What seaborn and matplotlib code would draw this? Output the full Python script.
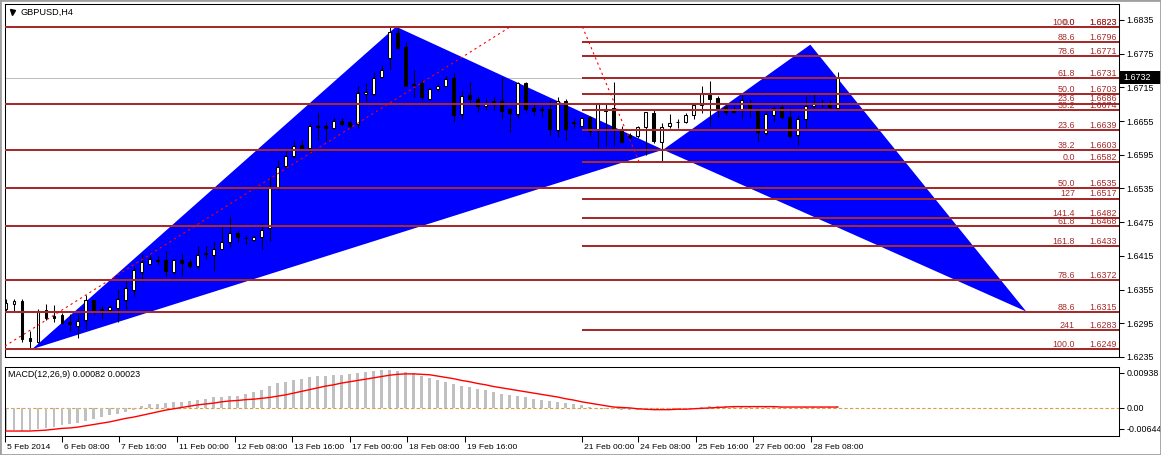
import numpy as np
import pandas as pd
import matplotlib
matplotlib.use("Agg")
import matplotlib.pyplot as plt
import matplotlib.transforms as mtransforms
from matplotlib.patches import Polygon, Rectangle
import seaborn as sns

# ---------------- data ----------------
symbol_title = "GBPUSD,H4"
macd_title = "MACD(12,26,9) 0.00082 0.00023"

opens = [1.6321, 1.6330, 1.6334, 1.6269, 1.6262, 1.6318, 1.6308, 1.6310, 1.6297, 1.6291,
         1.6300, 1.6336, 1.6320, 1.6319, 1.6323, 1.6337, 1.6354, 1.6386, 1.6401, 1.6406,
         1.6407, 1.6386, 1.6407, 1.6404, 1.6397, 1.6419, 1.6417, 1.6427, 1.6440, 1.6456,
         1.6446, 1.6443, 1.6449, 1.6464, 1.6536, 1.6575, 1.6592, 1.6613, 1.6607, 1.6646,
         1.6647, 1.6643, 1.6656, 1.6653, 1.6649, 1.6703, 1.6704, 1.6733, 1.6767, 1.6811,
         1.6787, 1.6721, 1.6723, 1.6695, 1.6712, 1.6718, 1.6732, 1.6667, 1.6702, 1.6694,
         1.6681, 1.6689, 1.6691, 1.6677, 1.6667, 1.6723, 1.6679, 1.6677, 1.6677, 1.6639,
         1.6691, 1.6652, 1.6647, 1.6663, 1.6640, 1.6677, 1.6678, 1.6641, 1.6631, 1.6629,
         1.6644, 1.6670, 1.6617, 1.6646, 1.6653, 1.6653, 1.6665, 1.6683, 1.6705, 1.6696,
         1.6680, 1.6677, 1.6675, 1.6687, 1.6677, 1.6634, 1.6666, 1.6680, 1.6662, 1.6630,
         1.6659, 1.6681, 1.6687, 1.6687, 1.6678]
highs = [1.6338, 1.6338, 1.6338, 1.6282, 1.6320, 1.6329, 1.6327, 1.6314, 1.6311, 1.6311,
         1.6345, 1.6337, 1.6325, 1.6327, 1.6356, 1.6371, 1.6397, 1.6418, 1.6416, 1.6414,
         1.6424, 1.6409, 1.6421, 1.6409, 1.6433, 1.6433, 1.6439, 1.6466, 1.6486, 1.6459,
         1.6452, 1.6451, 1.6473, 1.6556, 1.6585, 1.6601, 1.6619, 1.6622, 1.6652, 1.6671,
         1.6653, 1.6661, 1.6661, 1.6656, 1.6717, 1.6723, 1.6742, 1.6755, 1.6823, 1.6821,
         1.6796, 1.6746, 1.6728, 1.6714, 1.6723, 1.6736, 1.6740, 1.6709, 1.6725, 1.6700,
         1.6696, 1.6698, 1.6733, 1.6678, 1.6724, 1.6724, 1.6685, 1.6681, 1.6693, 1.6698,
         1.6694, 1.6659, 1.6663, 1.6664, 1.6688, 1.6688, 1.6724, 1.6646, 1.6634, 1.6646,
         1.6672, 1.6677, 1.6652, 1.6668, 1.6658, 1.6669, 1.6687, 1.6718, 1.6727, 1.6699,
         1.6687, 1.6681, 1.6702, 1.6694, 1.6678, 1.6672, 1.6681, 1.6684, 1.6678, 1.6666,
         1.6699, 1.6705, 1.6694, 1.6693, 1.6743]
lows = [1.6315, 1.6317, 1.6261, 1.6249, 1.6260, 1.6300, 1.6298, 1.6293, 1.6282, 1.6268,
        1.6285, 1.6311, 1.6303, 1.6314, 1.6297, 1.6320, 1.6343, 1.6371, 1.6400, 1.6400,
        1.6379, 1.6382, 1.6381, 1.6394, 1.6394, 1.6410, 1.6388, 1.6425, 1.6430, 1.6439,
        1.6436, 1.6442, 1.6427, 1.6442, 1.6533, 1.6572, 1.6590, 1.6604, 1.6598, 1.6622,
        1.6619, 1.6640, 1.6646, 1.6643, 1.6643, 1.6690, 1.6702, 1.6732, 1.6746, 1.6784,
        1.6717, 1.6698, 1.6693, 1.6693, 1.6708, 1.6717, 1.6654, 1.6659, 1.6686, 1.6672,
        1.6675, 1.6675, 1.6659, 1.6636, 1.6661, 1.6672, 1.6666, 1.6662, 1.6631, 1.6626,
        1.6622, 1.6643, 1.6646, 1.6628, 1.6609, 1.6611, 1.6610, 1.6616, 1.6622, 1.6625,
        1.6595, 1.6616, 1.6582, 1.6643, 1.6643, 1.6652, 1.6658, 1.6669, 1.6646, 1.6663,
        1.6666, 1.6669, 1.6658, 1.6663, 1.6619, 1.6631, 1.6654, 1.6659, 1.6625, 1.6613,
        1.6643, 1.6678, 1.6680, 1.6675, 1.6675]
closes = [1.6331, 1.6334, 1.6267, 1.6264, 1.6315, 1.6305, 1.6305, 1.6295, 1.6293, 1.6299,
          1.6336, 1.6318, 1.6315, 1.6324, 1.6338, 1.6357, 1.6390, 1.6405, 1.6409, 1.6407,
          1.6388, 1.6407, 1.6402, 1.6397, 1.6417, 1.6420, 1.6427, 1.6439, 1.6455, 1.6448,
          1.6447, 1.6449, 1.6461, 1.6535, 1.6574, 1.6592, 1.6610, 1.6606, 1.6646, 1.6644,
          1.6642, 1.6656, 1.6649, 1.6646, 1.6705, 1.6707, 1.6732, 1.6746, 1.6813, 1.6785,
          1.6718, 1.6720, 1.6697, 1.6712, 1.6718, 1.6730, 1.6666, 1.6699, 1.6695, 1.6681,
          1.6687, 1.6690, 1.6673, 1.6669, 1.6723, 1.6676, 1.6673, 1.6674, 1.6640, 1.6691,
          1.6640, 1.6653, 1.6661, 1.6638, 1.6687, 1.6673, 1.6641, 1.6617, 1.6627, 1.6645,
          1.6671, 1.6619, 1.6644, 1.6652, 1.6654, 1.6666, 1.6684, 1.6705, 1.6695, 1.6677,
          1.6672, 1.6672, 1.6693, 1.6674, 1.6635, 1.6668, 1.6678, 1.6662, 1.6629, 1.6659,
          1.6682, 1.6687, 1.6688, 1.6680, 1.6732]

macd_main = [-0.0053, -0.0050, -0.0053, -0.0051, -0.0049, -0.0047, -0.0044, -0.0040, -0.0036, -0.0034,
             -0.0030, -0.0025, -0.0021, -0.0017, -0.0013, -0.0009, -0.0004, 0.0004, 0.0008, 0.0009,
             0.0011, 0.0013, 0.0014, 0.0016, 0.0018, 0.0021, 0.0024, 0.0025, 0.0027, 0.0028,
             0.0033, 0.0037, 0.0040, 0.0050, 0.0056, 0.0060, 0.0065, 0.0066, 0.0071, 0.0073,
             0.0074, 0.0076, 0.0076, 0.0077, 0.0080, 0.0082, 0.0084, 0.0086, 0.0086, 0.0085,
             0.0082, 0.0079, 0.0073, 0.0069, 0.0063, 0.0059, 0.0054, 0.0051, 0.0048, 0.0044,
             0.0040, 0.0037, 0.0033, 0.0029, 0.0027, 0.0024, 0.0021, 0.0019, 0.0016, 0.0014,
             0.0011, 0.0008, 0.0006, 0.0002, 0.0000, -0.0002, -0.0003, -0.0004, -0.0004, -0.0004,
             -0.0005, -0.0005, -0.0005, -0.0004, -0.0003, -0.0002, 0.0000, 0.0002, 0.0004, 0.0004,
             0.0004, 0.0004, 0.0004, 0.0003, 0.0002, 0.0001, 0.0002, 0.0002, 0.0000, 0.0000,
             0.0001, 0.0002, 0.0002, 0.0002, 0.0005]
macd_signal = [-0.0053, -0.0053, -0.0053, -0.0053, -0.0052, -0.0051, -0.0049, -0.0047, -0.0046, -0.0044,
               -0.0041, -0.0038, -0.0035, -0.0032, -0.0028, -0.0024, -0.0021, -0.0017, -0.0013, -0.0009,
               -0.0005, -0.0002, 0.0001, 0.0004, 0.0007, 0.0009, 0.0011, 0.0014, 0.0016, 0.0017,
               0.0019, 0.0020, 0.0022, 0.0024, 0.0027, 0.0030, 0.0034, 0.0038, 0.0042, 0.0046,
               0.0050, 0.0053, 0.0057, 0.0060, 0.0063, 0.0066, 0.0069, 0.0072, 0.0075, 0.0077,
               0.0078, 0.0078, 0.0077, 0.0076, 0.0073, 0.0070, 0.0067, 0.0063, 0.0060, 0.0056,
               0.0053, 0.0049, 0.0046, 0.0043, 0.0040, 0.0037, 0.0034, 0.0031, 0.0028, 0.0025,
               0.0021, 0.0018, 0.0014, 0.0011, 0.0008, 0.0005, 0.0002, 0.0001, 0.0000, -0.0002,
               -0.0003, -0.0004, -0.0004, -0.0004, -0.0003, -0.0003, -0.0002, -0.0001, 0.0000, 0.0001,
               0.0002, 0.0003, 0.0003, 0.0003, 0.0003, 0.0003, 0.0003, 0.0002, 0.0002, 0.0002,
               0.0002, 0.0002, 0.0002, 0.0002, 0.0002]

price_ticks = [1.6835, 1.6775, 1.6715, 1.6655, 1.6595, 1.6535, 1.6475, 1.6415, 1.6355, 1.6295, 1.6235]
time_tick_bars = [-0.06, 7.06, 14.2, 21.4, 28.7, 35.8, 43.1, 50.2, 57.4, 72.0, 79.1, 86.3, 93.4, 100.7]
time_tick_labels = ["5 Feb 2014", "6 Feb 08:00", "7 Feb 16:00", "11 Feb 00:00", "12 Feb 08:00",
                    "13 Feb 16:00", "17 Feb 00:00", "18 Feb 08:00", "19 Feb 16:00", "21 Feb 00:00",
                    "24 Feb 08:00", "25 Feb 16:00", "27 Feb 00:00", "28 Feb 08:00"]

fib1_levels = ["0.0", "23.6", "38.2", "50.0", "61.8", "78.6", "88.6", "100.0"]
fib1_prices = [1.6823, 1.6686, 1.6603, 1.6535, 1.6468, 1.6372, 1.6315, 1.6249]
fib1_anchor_bars = [-0.7, 63.1]
fib1_anchor_prices = [1.6249, 1.6823]

fib2_levels = ["100.0", "88.6", "78.6", "61.8", "50.0", "38.2", "23.6", "0.0", "127", "141.4", "161.8", "241"]
fib2_prices = [1.6823, 1.6796, 1.6771, 1.6731, 1.6703, 1.6674, 1.6639, 1.6582, 1.6517, 1.6482, 1.6433, 1.6283]
fib2_start_bar = 72.0
fib2_anchor_bars = [72.1, 79.2]
fib2_anchor_prices = [1.6823, 1.6582]

pattern_bars = [3.3, 48.8, 82.2, 100.6, 127.6]
pattern_prices = [1.6249, 1.6823, 1.6604, 1.6791, 1.6316]

last_price = 1.6732
price_min, price_max = 1.62367, 1.68634
macd_min, macd_max = -0.00644, 0.00938
x_min, x_max = -0.1, 139.2

# ---------------- style ----------------
sns.set_theme(style="white")
plt.rcParams['font.family'] = ['Liberation Sans', 'DejaVu Sans']
FIB = '#A52A2A'
FS = 6.4

W, H = 1161, 455
fig = plt.figure(figsize=(W / 100, H / 100), dpi=100, facecolor='white')


def px_rect(x0, y0, x1, y1):
    return [x0 / W, 1 - y1 / H, (x1 - x0) / W, (y1 - y0) / H]


ax = fig.add_axes(px_rect(5, 4, 1119, 357))
ax2 = fig.add_axes(px_rect(5, 367, 1119, 436))

df = pd.DataFrame(dict(bar=np.arange(len(opens)), open=opens, high=highs, low=lows, close=closes))
up = df.close >= df.open
body_lo = np.minimum(df.open, df.close)
body_h = np.maximum((df.close - df.open).abs(), 0.00003)

# harmonic pattern triangles (background)
pts = list(zip(pattern_bars, pattern_prices))
ax.add_patch(Polygon(pts[0:3], closed=True, fc='#0000FF', ec='none', zorder=2))
ax.add_patch(Polygon(pts[2:5], closed=True, fc='#0000FF', ec='none', zorder=2))

# bid line
ax.axhline(last_price, color='#C0C0C0', lw=0.75, zorder=1)

# candles
ax.vlines(df.bar, df.low, df.high, color='black', lw=0.75, zorder=3)
ax.bar(df.bar, body_h, bottom=body_lo, width=0.32,
       color=np.where(up, 'white', 'black'), edgecolor='black', linewidth=0.75, zorder=4)

# fibonacci objects
ax.hlines(fib1_prices, x_min, x_max, color=FIB, lw=1.45, zorder=5)
ax.hlines(fib2_prices, fib2_start_bar, x_max, color=FIB, lw=1.45, zorder=5)
sns.lineplot(x=fib1_anchor_bars, y=fib1_anchor_prices, ax=ax, color='red', lw=0.8,
             linestyle=(0, (2, 3)), zorder=6)
sns.lineplot(x=fib2_anchor_bars, y=fib2_anchor_prices, ax=ax, color='red', lw=0.8,
             linestyle=(0, (2, 3)), zorder=6)

btr = mtransforms.blended_transform_factory(ax.transAxes, ax.transData)
ppu = 353 / (price_max - price_min)
lx = (1075 - 5) / 1114
px_ = (1117 - 5) / 1114
for lev, pr in list(zip(fib1_levels, fib1_prices)) + list(zip(fib2_levels, fib2_prices)):
    ax.text(lx, pr + 2.2 / ppu, lev, transform=btr, ha='right', va='baseline', fontsize=FS, color=FIB, zorder=7)
    ax.text(px_, pr + 2.2 / ppu, f"{pr:.4f}", transform=btr, ha='right', va='baseline', fontsize=FS,
            color=FIB, zorder=7)

ax.set_xlim(x_min, x_max)
ax.set_ylim(price_min, price_max)
ax.set_xticks([])
ax.yaxis.tick_right()
ax.set_yticks(price_ticks)
ax.set_yticklabels([f"{p:.4f}" for p in price_ticks])
ax.tick_params(axis='y', which='both', right=True, length=3.5, width=0.75, pad=2,
               labelsize=FS, colors='black', direction='out')
ax.set_xlabel('')
ax.set_ylabel('')
# the lowest price label is partly hidden by the indicator sub-window
clip_bb = mtransforms.TransformedBbox(mtransforms.Bbox.from_extents(0, 1 - 361 / H, 1, 1), fig.transFigure)
for lab in ax.yaxis.get_majorticklabels():
    lab.set_clip_box(clip_bb)
    lab.set_clip_on(True)

# current price marker on axis
ax.add_patch(Rectangle((1.0008, last_price - 6.5 / ppu), 0.0368, 13 / ppu, transform=btr,
                       fc='black', ec='none', clip_on=False, zorder=10))
ax.text(1.0036, last_price, f"{last_price:.4f}", transform=btr, ha='left', va='center',
        fontsize=FS, color='white', zorder=11, clip_on=False)

# title
ax.plot([0.0062], [0.977], marker='v', ms=3.6, color='black', transform=ax.transAxes, clip_on=False)
ax.text(0.0135, 0.976, symbol_title, transform=ax.transAxes, va='center', ha='left', fontsize=6.6, color='black')

# ---------------- MACD ----------------
mdf = pd.DataFrame(dict(bar=np.arange(len(macd_main)), main=macd_main, signal=macd_signal))
sns.barplot(data=mdf, x='bar', y='main', native_scale=True, color='#C0C0C0', saturation=1,
            width=0.32, errorbar=None, linewidth=0, ax=ax2, zorder=2)
ax2.axhline(0, color='#D8A040', lw=0.8, ls=(0, (3, 2)), zorder=1)
sns.lineplot(data=mdf, x='bar', y='signal', color='red', lw=1.0, ax=ax2, zorder=3)
ax2.set_xlim(x_min, x_max)
ax2.set_ylim(macd_min, macd_max)
ppu2 = 69 / (macd_max - macd_min)
ax2.yaxis.tick_right()
ax2.set_yticks([macd_max - 6 / ppu2, 0, macd_min + 7 / ppu2])
ax2.set_yticklabels([f"{macd_max:.5f}", "0.00", f"{macd_min:.5f}"])
ax2.tick_params(axis='y', right=True, length=3.5, width=0.75, pad=2, labelsize=FS, colors='black')
ax2.set_xticks(time_tick_bars)
ax2.set_xticklabels(time_tick_labels)
ax2.tick_params(axis='x', bottom=True, length=4, width=0.75, pad=1.5, labelsize=6.1, colors='black')
off = mtransforms.ScaledTranslation(2 / 100, 0, fig.dpi_scale_trans)
for lab in ax2.get_xticklabels():
    lab.set_horizontalalignment('left')
    lab.set_transform(lab.get_transform() + off)
ax2.set_xlabel('')
ax2.set_ylabel('')
ax2.text(0.003, 0.895, macd_title, transform=ax2.transAxes, va='center', ha='left', fontsize=FS, color='black')

for a in (ax, ax2):
    for s in a.spines.values():
        s.set_color('black')
        s.set_linewidth(0.75)
        s.set_visible(True)
    a.set_facecolor('white')

fig.add_artist(Rectangle((0, 0), 1, 1, transform=fig.transFigure, fill=False, ec='#A0A0A0', lw=2))

fig.savefig('out.png', dpi=100, facecolor='white')
